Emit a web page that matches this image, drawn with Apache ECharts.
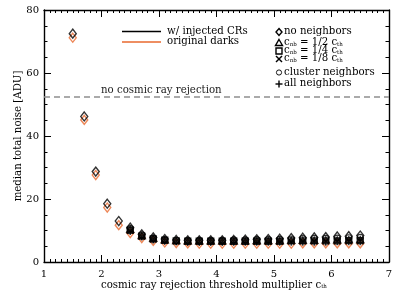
<!DOCTYPE html>
<html><head><meta charset="utf-8">
<script src="https://cdn.jsdelivr.net/npm/echarts@6/dist/echarts.min.js"></script>
<style>html,body{margin:0;padding:0;background:#fff}#c{width:399px;height:299px}</style>
</head><body><div id="c"></div>
<script>
// ---- data ----
const xAll = [1.5,1.7,1.9,2.1,2.3,2.5,2.7,2.9,3.1,3.3,3.5,3.7,3.9,4.1,4.3,4.5,4.7,4.9,5.1,5.3,5.5,5.7,5.9,6.1,6.3,6.5];
const noNbBlack = [72.5,46.2,28.7,18.5,13.0,10.9,8.8,7.8,7.3,7.0,6.9,6.9,6.9,6.9,7.0,7.1,7.2,7.3,7.4,7.6,7.7,7.8,7.9,8.1,8.2,8.4];
const noNbOrange = [71.2,45.1,27.6,17.3,11.7,9.2,7.6,6.7,6.2,6.0,5.9,5.8,5.8,5.8,5.8,5.8,5.8,5.8,5.8,5.8,5.9,5.9,5.9,5.9,5.9,5.9];
const xNb = [2.5,2.7,2.9,3.1,3.3,3.5,3.7,3.9,4.1,4.3,4.5,4.7,4.9,5.1,5.3,5.5,5.7,5.9,6.1,6.3,6.5];
const halfBlack    = [10.4,8.4,7.5,7.0,6.8,6.7,6.7,6.7,6.7,6.7,6.7,6.8,6.8,6.8,6.9,6.9,6.9,7.0,7.0,7.1,7.1];
const quarterBlack = [10.1,8.2,7.3,6.9,6.7,6.6,6.6,6.6,6.6,6.6,6.6,6.6,6.6,6.6,6.7,6.7,6.7,6.7,6.7,6.8,6.8];
const eighthBlack  = [9.9,8.1,7.2,6.8,6.6,6.5,6.5,6.5,6.5,6.5,6.5,6.5,6.5,6.5,6.5,6.6,6.6,6.6,6.6,6.6,6.6];
const clusterBlack = [10.6,8.6,7.6,7.1,6.9,6.9,6.9,6.9,6.9,7.0,7.0,7.1,7.1,7.2,7.3,7.4,7.5,7.5,7.6,7.7,7.8];
const allBlack     = [9.7,7.9,7.0,6.6,6.4,6.3,6.3,6.3,6.3,6.3,6.3,6.3,6.3,6.3,6.3,6.3,6.3,6.3,6.4,6.4,6.4];
const noRejection = 52.5;
const xTicks = [1,2,3,4,5,6,7];
const yTicks = [0,20,40,60,80];

const FONT = 'DejaVu Serif';
const ORANGE = '#e8692e';
const pair = (xs, ys) => xs.map((x, i) => [x, ys[i]]);
const hollow = (c, w) => ({ color: 'none', borderColor: c, borderWidth: w || 1.4 });
const sub = { s: { fontFamily: FONT, fontSize: 5.5, padding: [4, 0, 0, 0] } };
const txt = (left, top, text, extra) => ({ type: 'text', left: left, top: top,
  style: Object.assign({ text: text, font: '10.2px "' + FONT + '"', fill: '#000' }, extra || {}) });
const seg = (x1, y1, x2, y2, c) => ({ type: 'line', shape: { x1: x1, y1: y1, x2: x2, y2: y2 }, style: { stroke: c || '#000', lineWidth: 1.4 } });

const chart = echarts.init(document.getElementById('c'), null, { renderer: 'canvas' });
const axisCommon = {
  axisLine: { show: true, onZero: false, lineStyle: { color: '#000', width: 1.4 } },
  axisTick: { show: true, inside: true, length: 7, lineStyle: { color: '#000', width: 1 } },
  splitLine: { show: false }
};
chart.setOption({
  animation: false,
  grid: { left: 44, right: 10, top: 10, bottom: 37 },
  xAxis: [
    Object.assign({ type: 'value', min: xTicks[0], max: xTicks[xTicks.length - 1], interval: 1, position: 'bottom',
      minorTick: { show: true, splitNumber: 10, length: 3, lineStyle: { color: '#000' } },
      axisLabel: { margin: 7, color: '#000', fontFamily: FONT, fontSize: 10 } }, axisCommon),
    Object.assign({ type: 'value', min: xTicks[0], max: xTicks[xTicks.length - 1], interval: 1, position: 'top',
      minorTick: { show: true, splitNumber: 10, length: 3, lineStyle: { color: '#000' } },
      axisLabel: { show: false } }, axisCommon)
  ],
  yAxis: [
    Object.assign({ type: 'value', min: yTicks[0], max: yTicks[yTicks.length - 1], interval: 20, position: 'left',
      minorTick: { show: true, splitNumber: 4, length: 3.5, lineStyle: { color: '#000' } },
      axisLabel: { margin: 5, color: '#000', fontFamily: FONT, fontSize: 10 } }, axisCommon),
    Object.assign({ type: 'value', min: yTicks[0], max: yTicks[yTicks.length - 1], interval: 20, position: 'right',
      minorTick: { show: true, splitNumber: 4, length: 3.5, lineStyle: { color: '#000' } },
      axisLabel: { show: false } }, axisCommon)
  ],
  series: [
    { type: 'scatter', z: 2, symbol: 'diamond', symbolSize: [7, 9], itemStyle: hollow(ORANGE, 1.4), data: pair(xAll, noNbOrange),
      markLine: { silent: true, symbol: 'none', label: { show: false },
        lineStyle: { color: '#8f8f8f', type: [6, 4], width: 1.5 }, data: [{ yAxis: noRejection }] } },
    { type: 'scatter', z: 3, symbol: 'path://M5 0L10 10L0 10Z', symbolSize: [7, 6], itemStyle: hollow('#000'), data: pair(xNb, halfBlack) },
    { type: 'scatter', z: 3, symbol: 'rect', symbolSize: 6, itemStyle: hollow('#000'), data: pair(xNb, quarterBlack) },
    { type: 'scatter', z: 3, symbol: 'path://M0 0L10 10M10 0L0 10', symbolSize: 6, itemStyle: hollow('#000'), data: pair(xNb, eighthBlack) },
    { type: 'scatter', z: 3, symbol: 'circle', symbolSize: 6, itemStyle: hollow('#000', 1.2), data: pair(xNb, clusterBlack) },
    { type: 'scatter', z: 3, symbol: 'path://M5 0L5 10M0 5L10 5', symbolSize: 7, itemStyle: hollow('#000'), data: pair(xNb, allBlack) },
    { type: 'scatter', z: 4, symbol: 'diamond', symbolSize: [7, 9], itemStyle: hollow('#000', 1.4), data: pair(xAll, noNbBlack) }
  ],
  graphic: [
    txt(101, 85, 'no cosmic ray rejection', { fill: '#222' }),
    seg(122, 31.5, 161, 31.5, '#000'),
    seg(122, 42, 161, 42, ORANGE),
    txt(167, 26, 'w/ injected CRs'),
    txt(167, 36.5, 'original darks'),
    // legend symbols
    { type: 'polygon', shape: { points: [[279, 28.5], [282, 32], [279, 35.5], [276, 32]] }, style: { fill: 'none', stroke: '#000', lineWidth: 1.4 } },
    { type: 'polygon', shape: { points: [[279, 39.5], [282.5, 45.5], [275.5, 45.5]] }, style: { fill: 'none', stroke: '#000', lineWidth: 1.4 } },
    { type: 'rect', shape: { x: 276, y: 48, width: 6, height: 6 }, style: { fill: 'none', stroke: '#000', lineWidth: 1.4 } },
    seg(276, 56, 282, 62), seg(282, 56, 276, 62),
    { type: 'circle', shape: { cx: 279, cy: 72.5, r: 2.6 }, style: { fill: 'none', stroke: '#000', lineWidth: 0.9 } },
    seg(279, 80.5, 279, 87.5), seg(275.5, 84, 282.5, 84),
    txt(284, 26.5, 'no neighbors'),
    txt(284, 37.5, 'c{s|nb} = 1/2 c{s|th}', { rich: sub }),
    txt(284, 45.5, 'c{s|nb} = 1/4 c{s|th}', { rich: sub }),
    txt(284, 53.5, 'c{s|nb} = 1/8 c{s|th}', { rich: sub }),
    txt(284, 67, 'cluster neighbors'),
    txt(284, 78.5, 'all neighbors'),
    // axis titles
    txt(101, 280, 'cosmic ray rejection threshold multiplier c{s|th}', { rich: sub }),
    { type: 'text', x: 18, y: 136, rotation: Math.PI / 2, style: { text: 'median total noise [ADU]', font: '10.2px "' + FONT + '"', fill: '#000', align: 'center', verticalAlign: 'middle' } }
  ]
});
</script></body></html>
